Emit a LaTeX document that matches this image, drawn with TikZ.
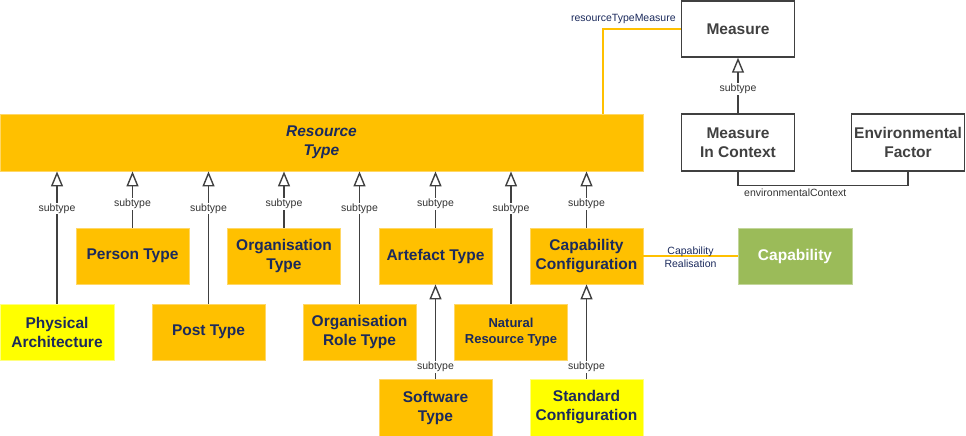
\documentclass[tikz,border=0pt]{standalone}
\usepackage{fontspec}
\setmainfont{Liberation Sans}
\usetikzlibrary{arrows.meta}
\definecolor{orng}{HTML}{FFC000}
\definecolor{orngedge}{HTML}{FFD766}
\definecolor{yell}{HTML}{FFFF00}
\definecolor{yelledge}{HTML}{FFFF80}
\definecolor{grn}{HTML}{9BBB59}
\definecolor{grnedge}{HTML}{C3D69B}
\definecolor{navy}{HTML}{1B2A5C}
\definecolor{dgray}{HTML}{404040}
\definecolor{lgray}{HTML}{333333}
\begin{document}
\begin{tikzpicture}[x=1pt,y=1pt,
  boxbase/.style={rectangle, inner sep=2pt, align=center, minimum width=113pt, minimum height=56pt,
    font=\fontsize{15.5}{19}\selectfont\bfseries},
  obox/.style={boxbase, fill=orng, draw=orngedge, line width=0.8pt, text=navy},
  ybox/.style={boxbase, fill=yell, draw=yelledge, line width=0.8pt, text=navy},
  gbox/.style={boxbase, fill=grn, draw=grnedge, line width=0.8pt, text=white},
  wbox/.style={boxbase, fill=white, draw=dgray, line width=1.4pt, text=dgray},
  subarr/.style={draw=dgray, line width=1.4pt, -{Triangle[open, length=15pt, width=12pt, fill=white]}},
  lbl/.style={fill=white, inner sep=1pt, text=lgray, font=\fontsize{10.5}{12}\selectfont},
  assoc/.style={draw=orng, line width=1.4pt},
  plain/.style={draw=dgray, line width=1.4pt},
  alabel/.style={text=navy, inner sep=1pt, align=center, font=\fontsize{10.5}{13}\selectfont}
]
\useasboundingbox (0,0) rectangle (966,-436);

% boxes
\node[obox, minimum width=643pt, minimum height=57pt, font=\fontsize{15.5}{19}\selectfont\bfseries\itshape] (RT) at (321.5,-142.5) {Resource\\Type};
\node[wbox] (M) at (738,-29) {Measure};
\node[wbox, minimum height=57pt] (MiC) at (738,-142.5) {Measure\\In Context};
\node[wbox, minimum height=57pt] (EF) at (908,-142.5) {Environmental\\Factor};

\node[obox] (PT) at (132.5,-256) {Person Type};
\node[obox] (OT) at (284,-256) {Organisation\\Type};
\node[obox] (AT) at (435.5,-256) {Artefact Type};
\node[obox] (CC) at (586.5,-256) {Capability\\Configuration};
\node[gbox, minimum width=114pt] (CAP) at (795,-256) {Capability};

\node[ybox, minimum width=114pt] (PA) at (57,-332) {Physical\\Architecture};
\node[obox] (POT) at (208.5,-332) {Post Type};
\node[obox] (ORT) at (359.5,-332) {Organisation\\Role Type};
\node[obox, font=\fontsize{13}{16}\selectfont\bfseries] (NRT) at (511,-332) {Natural\\Resource Type};

\node[obox, minimum height=57pt] (ST) at (435.5,-407.5) {Software\\Type};
\node[ybox, minimum height=57pt] (SC) at (586.5,-407.5) {Standard\\Configuration};

% subtype arrows to Resource Type
\draw[subarr] (PA.north) -- node[lbl, pos=0.72]{subtype} (PA.north |- RT.south);
\draw[subarr] (PT.north) -- node[lbl, pos=0.42]{subtype} (PT.north |- RT.south);
\draw[subarr] (POT.north) -- node[lbl, pos=0.72]{subtype} (POT.north |- RT.south);
\draw[subarr] (OT.north) -- node[lbl, pos=0.42]{subtype} (OT.north |- RT.south);
\draw[subarr] (ORT.north) -- node[lbl, pos=0.72]{subtype} (ORT.north |- RT.south);
\draw[subarr] (AT.north) -- node[lbl, pos=0.42]{subtype} (AT.north |- RT.south);
\draw[subarr] (NRT.north) -- node[lbl, pos=0.72]{subtype} (NRT.north |- RT.south);
\draw[subarr] (CC.north) -- node[lbl, pos=0.42]{subtype} (CC.north |- RT.south);

% lower subtypes
\draw[subarr] (ST.north) -- node[lbl, pos=0.126]{subtype} (AT.south);
\draw[subarr] (SC.north) -- node[lbl, pos=0.126]{subtype} (CC.south);
\draw[subarr] (MiC.north) -- node[lbl, pos=0.44]{subtype} (M.south);

% associations
\draw[assoc] (M.west) -| ([xshift=281.5pt]RT.north);
\node[alabel, anchor=east] (rtmlbl) at ([xshift=-4pt, yshift=10pt]M.west) {resourceTypeMeasure};

\draw[plain] (MiC.south) -- ++(0,-14) coordinate (ec) -| (EF.south);
\node[lbl, anchor=north west, fill=none] (eclbl) at ([xshift=5pt, yshift=-2pt]ec) {environmentalContext};

\draw[assoc] (CC.east) -- node[alabel, midway, yshift=-1pt]{Capability\\Realisation} (CAP.west);
\end{tikzpicture}
\end{document}
